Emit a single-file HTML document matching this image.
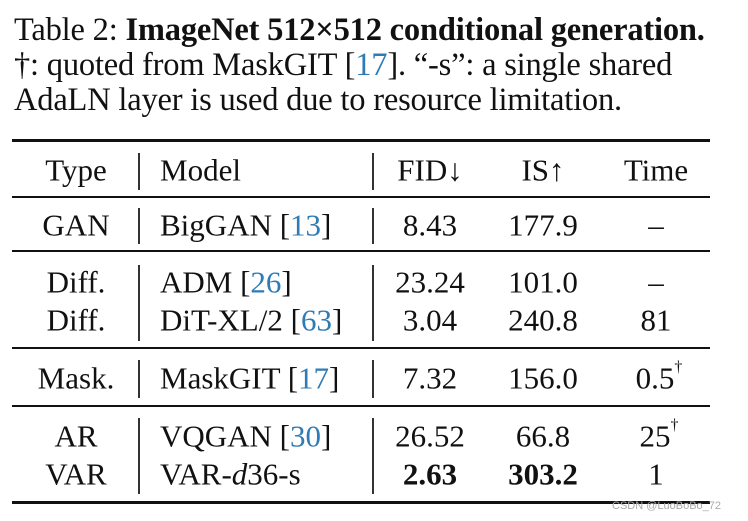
<!DOCTYPE html>
<html><head><meta charset="utf-8"><style>
body{margin:0;background:#fff;width:748px;height:521px;overflow:hidden;position:relative;font-family:"Liberation Serif",serif;color:#111}
.cap{position:absolute;left:14px;font-size:32.5px;white-space:nowrap;line-height:1;letter-spacing:-0.2px}
.rule{position:absolute;left:12px;width:698px;background:#111}
.vl{position:absolute;width:1.5px;background:#333}
.c{position:absolute;font-size:31px;line-height:1;white-space:nowrap;transform:translate(-50%,-50%)}
.l{position:absolute;font-size:31px;line-height:1;white-space:nowrap;transform:translateY(-50%)}
.ref{color:#2e7bb5}
sup{font-size:16px;vertical-align:top;position:relative;top:-3px}
.wm{position:absolute;left:612px;top:500px;font-family:"Liberation Sans",sans-serif;font-size:11px;color:#aaa}
</style></head><body>
<div class="cap" style="top:14px">Table 2: <b>ImageNet 512×512 conditional generation.</b></div>
<div class="cap" style="top:49px">†: quoted from MaskGIT [<span class="ref">17</span>]. “-s”: a single shared</div>
<div class="cap" style="top:84px">AdaLN layer is used due to resource limitation.</div>

<div class="rule" style="top:139px;height:3px"></div>
<div class="rule" style="top:196px;height:2px"></div>
<div class="rule" style="top:250px;height:2px"></div>
<div class="rule" style="top:347px;height:2px"></div>
<div class="rule" style="top:405px;height:2px"></div>
<div class="rule" style="top:501px;height:3px"></div>

<div class="vl" style="left:138px;top:153px;height:37px"></div>
<div class="vl" style="left:372px;top:153px;height:37px"></div>
<div class="vl" style="left:138px;top:208px;height:36px"></div>
<div class="vl" style="left:372px;top:208px;height:36px"></div>
<div class="vl" style="left:138px;top:265px;height:76px"></div>
<div class="vl" style="left:372px;top:265px;height:76px"></div>
<div class="vl" style="left:138px;top:360px;height:38px"></div>
<div class="vl" style="left:372px;top:360px;height:38px"></div>
<div class="vl" style="left:138px;top:418px;height:76px"></div>
<div class="vl" style="left:372px;top:418px;height:76px"></div>

<div>
<div class="c" style="left:76px;top:170px">Type</div><div class="l" style="left:160px;top:170px">Model</div>
<div class="c" style="left:430px;top:170px">FID↓</div><div class="c" style="left:543px;top:170px">IS↑</div><div class="c" style="left:656px;top:170px">Time</div>
</div>
<div>
<div class="c" style="left:76px;top:225px">GAN</div><div class="l" style="left:160px;top:225px">BigGAN [<span class="ref">13</span>]</div>
<div class="c" style="left:430px;top:225px">8.43</div><div class="c" style="left:543px;top:225px">177.9</div><div class="c" style="left:656px;top:225px">–</div>
</div>
<div>
<div class="c" style="left:76px;top:282px">Diff.</div><div class="l" style="left:160px;top:282px">ADM [<span class="ref">26</span>]</div>
<div class="c" style="left:430px;top:282px">23.24</div><div class="c" style="left:543px;top:282px">101.0</div><div class="c" style="left:656px;top:282px">–</div>
</div>
<div>
<div class="c" style="left:76px;top:320px">Diff.</div><div class="l" style="left:160px;top:320px">DiT-XL/2 [<span class="ref">63</span>]</div>
<div class="c" style="left:430px;top:320px">3.04</div><div class="c" style="left:543px;top:320px">240.8</div><div class="c" style="left:656px;top:320px">81</div>
</div>
<div>
<div class="c" style="left:76px;top:378px">Mask.</div><div class="l" style="left:160px;top:378px">MaskGIT [<span class="ref">17</span>]</div>
<div class="c" style="left:430px;top:378px">7.32</div><div class="c" style="left:543px;top:378px">156.0</div><div class="c" style="left:659px;top:378px">0.5<sup>†</sup></div>
</div>
<div>
<div class="c" style="left:76px;top:436px">AR</div><div class="l" style="left:160px;top:436px">VQGAN [<span class="ref">30</span>]</div>
<div class="c" style="left:430px;top:436px">26.52</div><div class="c" style="left:543px;top:436px">66.8</div><div class="c" style="left:659px;top:436px">25<sup>†</sup></div>
</div>
<div>
<div class="c" style="left:76px;top:474px">VAR</div><div class="l" style="left:160px;top:474px">VAR-<i>d</i>36-s</div>
<div class="c" style="left:430px;top:474px"><b>2.63</b></div><div class="c" style="left:543px;top:474px"><b>303.2</b></div><div class="c" style="left:656px;top:474px">1</div>
</div>
<div class="wm">CSDN @LuoBoBo_72</div>
</body></html>
